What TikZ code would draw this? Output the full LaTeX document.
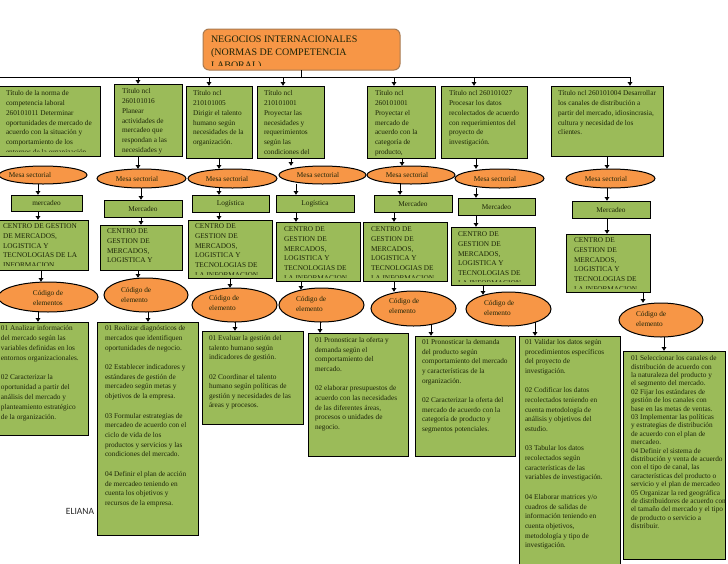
\documentclass[tikz,border=0pt]{standalone}
\usepackage{fontspec}
\setmainfont{Liberation Serif}
\newfontfamily\elianafont{Carlito}
\usetikzlibrary{arrows.meta,shapes.geometric}
\definecolor{gbfill}{HTML}{9BBB59}
\definecolor{orfill}{HTML}{F79646}
\definecolor{rootline}{HTML}{A87A50}
\definecolor{inktext}{HTML}{1C2408}
\tikzset{
  greenbox/.style={rectangle,draw=black,fill=gbfill,line width=1pt,inner sep=0pt,outer sep=0pt},
  rootbox/.style={rectangle,rounded corners=6pt,draw=rootline,fill=orfill,line width=1pt,inner sep=0pt,outer sep=0pt},
  oval/.style={ellipse,draw=black,fill=orfill,line width=1pt,inner sep=0pt,outer sep=0pt},
  txt/.style={inner sep=0pt,outer sep=0pt,align=left,text=inktext},
  ctxt/.style={inner sep=0pt,outer sep=0pt,align=center,text=inktext,font=\fontsize{7.3}{10}\selectfont},
  arr/.style={line width=1pt,-{Latex[length=4pt,width=5.5pt]}},
  wire/.style={line width=1pt}
}
% name, x1,y1,x2,y2, text x, first-line centre y, leading, lines
\def\tsz{7.3}\def\bst{greenbox}\def\ins{3}
\newcommand\gb[9]{%
  \pgfmathsetmacro{\cxx}{(#2+#4)/2}\pgfmathsetmacro{\cyy}{(#3+#5)/2}%
  \pgfmathsetmacro{\ww}{#4-#2}\pgfmathsetmacro{\hh}{#5-#3}%
  \pgfmathsetmacro{\tty}{#7-0.53*\tsz}\pgfmathsetmacro{\rh}{0.75*\tsz}%
  \pgfmathsetmacro{\cb}{#5-\ins}%
  \node[\bst,minimum width=\ww pt,minimum height=\hh pt] (#1) at (\cxx,\cyy) {};
  \begin{scope}
    \clip (#2,#3) rectangle (#4,\cb);
    \node[txt,anchor=north west,font=\fontsize{\tsz}{#8}\selectfont] (#1t) at (#6,\tty) {\rule{0pt}{\rh pt}#9};
  \end{scope}
}
% name, x1,y1,x2,y2, text
\newcommand\mk[6]{%
  \pgfmathsetmacro{\cxx}{(#2+#4)/2}\pgfmathsetmacro{\cyy}{(#3+#5)/2}%
  \pgfmathsetmacro{\ww}{#4-#2}\pgfmathsetmacro{\hh}{#5-#3}%
  \node[greenbox,minimum width=\ww pt,minimum height=\hh pt,font=\fontsize{7.3}{10}\selectfont,text=inktext] (#1) at (\cxx,\cyy) {#6};
}
% name, x1,y1,x2,y2, text centre x,y, text
\newcommand\el[8]{%
  \pgfmathsetmacro{\cxx}{(#2+#4)/2}\pgfmathsetmacro{\cyy}{(#3+#5)/2}%
  \pgfmathsetmacro{\ww}{#4-#2}\pgfmathsetmacro{\hh}{#5-#3}%
  \node[oval,minimum width=\ww pt,minimum height=\hh pt] (#1) at (\cxx,\cyy) {};
  \node[ctxt] (#1t) at (#6,#7) {#8};
}
% name, x1,y1,x2,y2, text left x, first-line y, text (two lines, left aligned)
\newcommand\ek[8]{%
  \pgfmathsetmacro{\cxx}{(#2+#4)/2}\pgfmathsetmacro{\cyy}{(#3+#5)/2}%
  \pgfmathsetmacro{\ww}{#4-#2}\pgfmathsetmacro{\hh}{#5-#3}%
  \pgfmathsetmacro{\tty}{#7-3.9}%
  \node[oval,minimum width=\ww pt,minimum height=\hh pt] (#1) at (\cxx,\cyy) {};
  \node[txt,anchor=north west,font=\fontsize{7.3}{10}\selectfont] (#1t) at (#6,\tty) {\rule{0pt}{5.5pt}#8};
}
\newcommand\conn[4][]{\coordinate (cc) at (#4,0); \draw[arr,#1] (#2.south -| cc) -- (#3.north -| cc);}
\newcommand\busarrow[2]{\coordinate (cc) at (#2,0); \draw[arr] (busL -| cc) -- (#1.north -| cc);}
\begin{document}
\begin{tikzpicture}[x=1pt,y=-1pt]
\useasboundingbox (0,0) rectangle (728,563);
% root
\def\tsz{10}\def\bst{rootbox}\def\ins{5}
\gb{root}{203}{29}{400}{70}{211}{40}{13.2}{NEGOCIOS INTERNACIONALES\\(NORMAS DE COMPETENCIA\\LABORAL)}
\def\tsz{7.3}\def\bst{greenbox}\def\ins{5}
% titles
\gb{T1}{-0.5}{86}{100}{156}{6}{94}{9.8}{Título de la norma de\\competencia laboral\\260101011 Determinar\\oportunidades de mercado de\\acuerdo con la situación y\\comportamiento de los\\entornos de la organización}
\def\ins{3}
\gb{T2}{114}{84}{182}{156}{122}{92}{9.8}{Título ncl\\260101016\\Planear\\actividades de\\mercadeo que\\respondan a las\\necesidades y}
\gb{T3}{186}{86}{252}{158}{193}{94}{9.8}{Título ncl\\210101005\\Dirigir el talento\\humano según\\necesidades de la\\organización.}
\gb{T4}{257}{86}{324}{158}{264}{94}{9.8}{Título ncl\\210101001\\Proyectar las\\necesidades y\\requerimientos\\según las\\condiciones del}
\gb{T5}{367}{86}{435}{158}{375}{94}{9.8}{Título ncl\\260101001\\Proyectar el\\mercado de\\acuerdo con la\\categoría de\\producto,}
\gb{T6}{441}{86}{527}{158}{449}{94}{9.8}{Título ncl 260101027\\Procesar los datos\\recolectados de acuerdo\\con requerimientos del\\proyecto de\\investigación.}
\gb{T7}{551}{86}{663}{156}{558}{94}{9.8}{Título ncl 260101004 Desarrollar\\los canales de distribución a\\partir del mercado, idiosincrasia,\\cultura y necesidad de los\\clientes.}
% bus
\coordinate (busL) at (0,77);
\coordinate (busR) at (630,77);
\draw[wire] (busL) -- (busR);
\draw[wire] (root.south) -- (root.south |- busL);
\busarrow{T2}{138}
\busarrow{T3}{209}
\busarrow{T4}{283}
\busarrow{T5}{394}
\busarrow{T6}{474}
\busarrow{T7}{630}
% mesa
\el{E1}{-1}{166}{87}{184}{30}{175}{Mesa sectorial}
\el{E2}{97}{169}{186}{188}{137}{179}{Mesa sectorial}
\el{E3}{188}{169}{277}{188}{227}{179}{Mesa sectorial}
\el{E4}{279}{166}{366}{184}{318}{175}{Mesa sectorial}
\el{E5}{367}{166}{455}{184}{407}{175}{Mesa sectorial}
\el{E6}{455}{169}{544}{188}{495}{179}{Mesa sectorial}
\el{E7}{566}{169}{655}{188}{606}{179}{Mesa sectorial}
% market
\mk{M1}{11}{195}{82}{211}{mercadeo}
\mk{M2}{104}{200}{182}{217}{Mercadeo}
\mk{M3}{192}{195}{269}{212}{Logística}
\mk{M4}{276}{195}{354}{212}{Logística}
\mk{M5}{374}{195}{452}{212}{Mercadeo}
\mk{M6}{458}{198}{535}{215}{Mercadeo}
\mk{M7}{572}{201}{650}{218}{Mercadeo}
% centro
\def\ins{5}
\gb{C1}{-0.5}{220}{88}{270}{3}{227}{9.7}{CENTRO DE GESTION\\DE MERCADOS,\\LOGISTICA Y\\TECNOLOGIAS DE LA\\INFORMACION}
\def\ins{3.5}
\gb{C2}{100}{225}{182}{270}{107}{232}{9.7}{CENTRO DE\\GESTION DE\\MERCADOS,\\LOGISTICA Y}
\gb{C3}{188}{220}{272}{278}{195}{227}{9.7}{CENTRO DE\\GESTION DE\\MERCADOS,\\LOGISTICA Y\\TECNOLOGIAS DE\\LA INFORMACION}
\gb{C4}{276}{222}{360}{281}{284}{230}{9.7}{CENTRO DE\\GESTION DE\\MERCADOS,\\LOGISTICA Y\\TECNOLOGIAS DE\\LA INFORMACION}
\gb{C5}{363.5}{222}{447}{281}{371}{230}{9.7}{CENTRO DE\\GESTION DE\\MERCADOS,\\LOGISTICA Y\\TECNOLOGIAS DE\\LA INFORMACION}
\gb{C6}{451}{227}{535}{285}{458}{235}{9.7}{CENTRO DE\\GESTION DE\\MERCADOS,\\LOGISTICA Y\\TECNOLOGIAS DE\\LA INFORMACION}
\gb{C7}{566}{234}{650}{292}{574}{241}{9.7}{CENTRO DE\\GESTION DE\\MERCADOS,\\LOGISTICA Y\\TECNOLOGIAS DE\\LA INFORMACION}
\def\ins{0.5}
% codigo
\el{K1}{-2}{282}{98}{312}{48}{298}{Código de\\elementos}
\ek{K2}{104}{278}{188}{312}{121}{291}{Código de\\elemento}
\ek{K3}{192}{288}{277}{322}{209}{299}{Código de\\elemento}
\ek{K4}{279}{288}{364}{322}{296}{300}{Código de\\elemento}
\ek{K5}{371}{291}{456}{326}{389}{302}{Código de\\elemento}
\ek{K6}{466}{292}{551}{326}{484}{304}{Código de\\elemento}
\ek{K7}{619}{303}{703}{337}{636}{315}{Código de\\elemento}
% elements
\gb{A1}{-0.5}{322}{88}{435}{1}{329}{9.85}{01 Analizar información\\del mercado según las\\variables definidas en los\\entornos organizacionales.\\~\\02 Caracterizar la\\oportunidad a partir del\\análisis del mercado y\\planteamiento estratégico\\de la organización.}
\gb{A2}{97}{322}{198}{535}{105}{329}{9.72}{01 Realizar diagnósticos de\\mercados que identifiquen\\oportunidades de negocio.\\~\\02 Establecer indicadores y\\estándares de gestión de\\mercadeo según metas y\\objetivos de la empresa.\\~\\03 Formular estrategias de\\mercadeo de acuerdo con el\\ciclo de vida de los\\productos y servicios y las\\condiciones del mercado.\\~\\04 Definir el plan de acción\\de mercadeo teniendo en\\cuenta los objetivos y\\recursos de la empresa.}
\gb{A3}{202}{331}{303}{424}{209}{339}{9.6}{01 Evaluar la gestión del\\talento humano según\\indicadores de gestión.\\~\\02 Coordinar el talento\\humano según políticas de\\gestión y necesidades de las\\áreas y procesos.}
\gb{A4}{308}{333}{408}{456}{315}{341}{9.67}{01 Pronosticar la oferta y\\demanda según el\\comportamiento del\\mercado.\\~\\02 elaborar presupuestos de\\acuerdo con las necesidades\\de las diferentes áreas,\\procesos o unidades de\\negocio.}
\gb{A5}{415}{336}{515}{456}{422}{343}{9.67}{01 Pronosticar la demanda\\del producto según\\comportamiento del mercado\\y características de la\\organización.\\~\\02 Caracterizar la oferta del\\mercado de acuerdo con la\\categoría de producto y\\segmentos potenciales.}
\gb{A6}{519}{336}{620}{565}{525}{343}{9.67}{01 Validar los datos según\\procedimientos específicos\\del proyecto de\\investigación.\\~\\02 Codificar los datos\\recolectados teniendo en\\cuenta metodología de\\análisis y objetivos del\\estudio.\\~\\03 Tabular los datos\\recolectados según\\características de las\\variables de investigación.\\~\\04 Elaborar matrices y/o\\cuadros de salidas de\\información teniendo en\\cuenta objetivos,\\metodología y tipo de\\investigación.}
\gb{A7}{623}{351}{725}{559}{631}{359}{8.4}{01 Seleccionar los canales de\\distribución de acuerdo con\\la naturaleza del producto y\\el segmento del mercado.\\02 Fijar los estándares de\\gestión de los canales con\\base en las metas de ventas.\\03 Implementar las políticas\\y estrategias de distribución\\de acuerdo con el plan de\\mercadeo.\\04 Definir el sistema de\\distribución y venta de acuerdo\\con el tipo de canal, las\\características del producto o\\servicio y el plan de mercadeo\\05 Organizar la red geográfica\\de distribuidores de acuerdo con\\el tamaño del mercado y el tipo\\de producto o servicio a\\distribuir.}
% titles to mesa
\conn{T2}{E2}{138}
\conn{T3}{E3}{219}
\conn{T4}{E4}{291}
\conn{T5}{E5}{402}
\conn{T6}{E6}{476}
\conn{T7}{E7}{607}
% mesa to market
\conn{E1}{M1}{38}
\conn{E2}{M2}{141}
\conn{E3}{M3}{219}
\conn{E4}{M4}{296}
\conn{E5}{M5}{400}
\conn{E6}{M6}{476}
\conn{E7}{M7}{607}
% market to centro
\conn{M1}{C1}{38}
\conn{M2}{C2}{141}
\conn{M3}{C3}{219}
\conn{M4}{C4}{296}
\conn{M5}{C5}{394}
\conn{M6}{C6}{476}
\conn{M7}{C7}{607}
% centro to codigo
\conn{C1}{K1}{41}
\conn{C2}{K2}{138}
\conn{C3}{K3}{230}
\conn[shorten >=-2pt]{C4}{K4}{301}
\conn[shorten >=-1pt]{C5}{K5}{394}
\conn[shorten >=-3pt]{C6}{K6}{483}
\conn{C7}{K7}{643}
% codigo to elements
\conn{K1}{A1}{38}
\conn{K2}{A2}{148}
\conn{K3}{A3}{235}
\conn{K4}{A4}{320}
\conn[shorten <=-2pt]{K5}{A5}{431}
\conn[shorten <=-4pt]{K6}{A6}{535}
\conn{K7}{A7}{664}
\node[inner sep=0pt,font=\elianafont\fontsize{9.5}{11}\selectfont,text=black!85] (eliana) at (80,511) {ELIANA};
\end{tikzpicture}
\end{document}
